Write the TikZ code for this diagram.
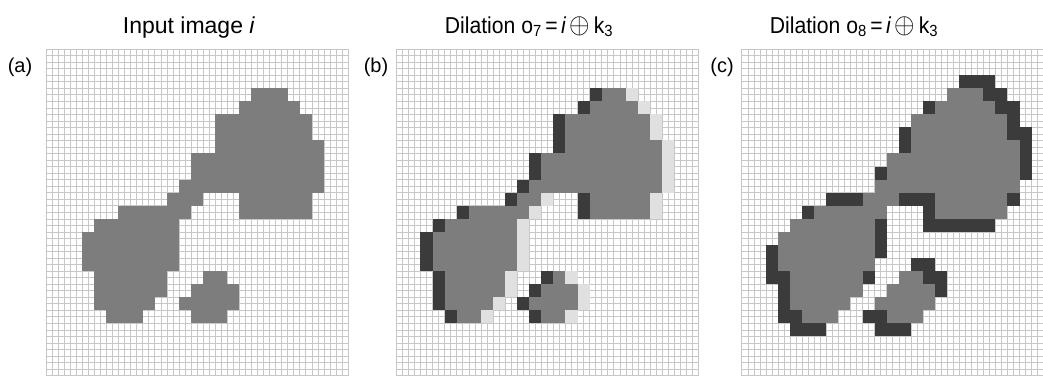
\documentclass[tikz,border=0pt]{standalone}
\usepackage{fontspec}
\setmainfont{Liberation Sans}
\usetikzlibrary{positioning}
\definecolor{pixgrey}{gray}{0.49}
\definecolor{pixdark}{gray}{0.23}
\definecolor{pixlight}{gray}{0.88}
\definecolor{gridgrey}{gray}{0.78}
\tikzset{
  shp/.style={fill=pixgrey},
  drk/.style={fill=pixdark},
  lgt/.style={fill=pixlight},
  gridln/.style={draw=gridgrey, line width=0.5pt},
  ttl/.style={font=\fontsize{23}{27}\selectfont, anchor=base, inner sep=0pt},
  lbl/.style={font=\fontsize{20}{24}\selectfont, inner sep=0pt},
  panel/.style={x=12.08pt, y=-13.06pt}
}
% pixel runs of the input image: row/first col/last col
\newcommand{\imgruns}{3/17/19, 4/16/20, 5/14/21, 6/14/21, 7/14/22, 8/12/22,
  9/12/22, 10/11/22, 11/10/12, 11/16/21, 12/6/11, 12/16/21, 13/4/10,
  14/3/10, 15/3/10, 16/3/10, 17/4/9, 17/13/14, 18/4/9, 18/12/15,
  19/4/8, 19/11/15, 20/5/7, 20/12/14}
\newcommand{\pixgrid}{%
  \foreach \k in {0,0.5,...,25} {
    \draw[gridln] (\k,0) -- (\k,25);
    \draw[gridln] (0,\k) -- (25,\k);
  }}
\newcommand{\dilname}[1]{\scalebox{0.92}[1]{Dilation o\textsubscript{#1}\,=\,\textit{i}\,\scalebox{1.15}{$\oplus$}\,k\textsubscript{3}}}

\begin{document}
\begin{tikzpicture}[x=1pt, y=-1pt]
  \useasboundingbox (0,0) rectangle (1043,378);
  \fill[white] (0,0) rectangle (1043,378);

  % titles
  \node[ttl] (ttla) at (189,33) {Input image \textit{i}};
  \node[ttl] (ttlb) at (529,33) {\dilname{7}};
  \node[ttl] (ttlc) at (854,33) {\dilname{8}};

  % panel labels
  \node[lbl] (laba) at (20,67) {(a)};
  \node[lbl] (labb) at (376,67) {(b)};
  \node[lbl] (labc) at (722,67) {(c)};

  % (a) input image
  \begin{scope}[shift={(46,49)}, panel]
    \pixgrid
    \foreach \r/\s/\e in \imgruns {
      \fill[shp] (\s,\r) rectangle (\e+1,\r+1);
    }
  \end{scope}

  % (b) shifted: lost pixels light, new pixels dark
  \begin{scope}[shift={(396.3,49)}, panel]
    \pixgrid
    \foreach \r/\s/\e in \imgruns {
      \fill[lgt] (\s,\r) rectangle (\e+1,\r+1);
      \fill[shp] (\s,\r) rectangle (\e,\r+1);
      \fill[drk] (\s-1,\r) rectangle (\s,\r+1);
    }
  \end{scope}

  % (c) grown along the diagonal
  \begin{scope}[shift={(741.7,49)}, panel]
    \pixgrid
    \foreach \r/\s/\e in \imgruns {
      \fill[drk] (\s+1,\r-1) rectangle (\e+2,\r);
      \fill[drk] (\s-1,\r+1) rectangle (\e,\r+2);
    }
    \foreach \r/\s/\e in \imgruns {
      \fill[shp] (\s,\r) rectangle (\e+1,\r+1);
    }
  \end{scope}
\end{tikzpicture}
\end{document}
